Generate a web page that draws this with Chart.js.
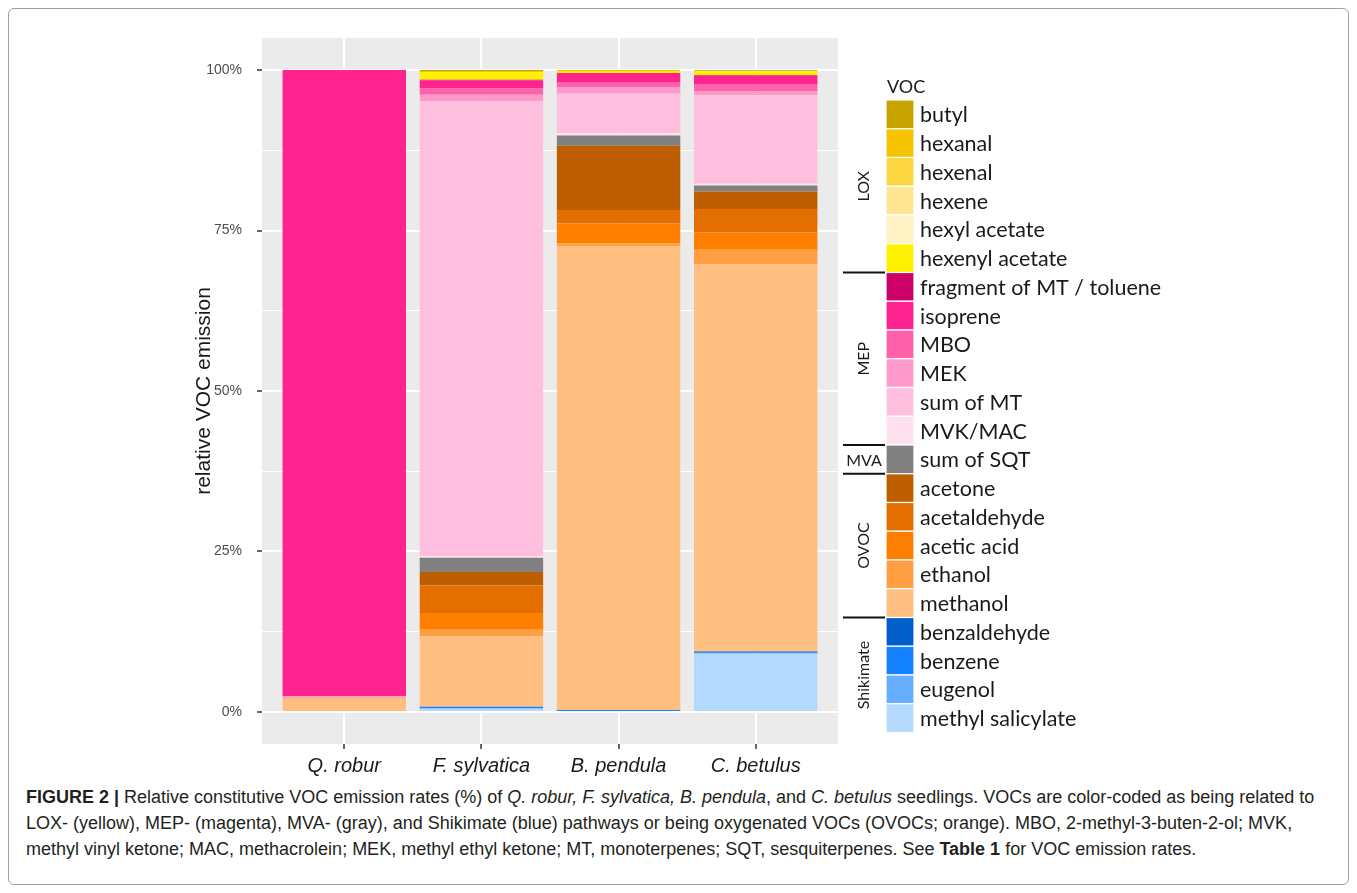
<!DOCTYPE html>
<html>
<head>
<meta charset="utf-8">
<script src="https://cdn.jsdelivr.net/npm/chart.js@4.4.1/dist/chart.umd.min.js"></script>
<style>
  html, body { margin: 0; padding: 0; background: #fff; }
  #frame { position: absolute; left: 8px; top: 8px; width: 1341px; height: 877px;
           border: 1px solid #a0a0a0; border-radius: 6px; box-sizing: border-box; }
  #wrap { position: absolute; left: 0; top: 0; width: 1357px; height: 780px; }
  #caption { position: absolute; left: 26px; top: 784px; width: 1315px;
             font-family: "Liberation Sans", Arial, sans-serif; font-size: 18px;
             line-height: 26px; color: #231f20; white-space: nowrap; }
</style>
</head>
<body>
<div id="frame"></div>
<div id="wrap"><canvas id="c" width="1357" height="780"></canvas></div>
<div id="caption"><b>FIGURE 2 |</b> Relative constitutive VOC emission rates (%) of <i>Q. robur, F. sylvatica, B. pendula</i>, and <i>C. betulus</i> seedlings. VOCs are color-coded as being related to<br>LOX- (yellow), MEP- (magenta), MVA- (gray), and Shikimate (blue) pathways or being oxygenated VOCs (OVOCs; orange). MBO, 2-methyl-3-buten-2-ol; MVK,<br>methyl vinyl ketone; MAC, methacrolein; MEK, methyl ethyl ketone; MT, monoterpenes; SQT, sesquiterpenes. See <b>Table 1</b> for VOC emission rates.</div>
<script>
// Tree species on the x axis
const categories = ['Q. robur', 'F. sylvatica', 'B. pendula', 'C. betulus'];

// VOC compounds, listed top of stack first (legend order)
const vocNames = ['butyl', 'hexanal', 'hexenal', 'hexene', 'hexyl acetate', 'hexenyl acetate',
  'fragment of MT / toluene', 'isoprene', 'MBO', 'MEK', 'sum of MT', 'MVK/MAC',
  'sum of SQT',
  'acetone', 'acetaldehyde', 'acetic acid', 'ethanol', 'methanol',
  'benzaldehyde', 'benzene', 'eugenol', 'methyl salicylate'];

const vocColors = ['#C9A300', '#F5C300', '#FCD541', '#FDE592', '#FEF1C4', '#FFF100',
  '#CC0068', '#FF238F', '#FF62AA', '#FF98CB', '#FFBFDE', '#FFE0EF',
  '#808080',
  '#BD5E00', '#E26F00', '#FF8000', '#FF9F41', '#FFBF80',
  '#005FC9', '#1482FF', '#66AEFF', '#B4D9FF'];

// Pathway groups: [label, first index, last index] into vocNames
const pathwayGroups = [['LOX', 0, 5], ['MEP', 6, 11], ['MVA', 12, 12], ['OVOC', 13, 17], ['Shikimate', 18, 21]];

// Relative emission (%) per species, in vocNames order
const qRobur     = [0, 0, 0, 0, 0, 0,      0, 97.55, 0, 0.25, 0, 0,      0,     0, 0, 0, 0.15, 2.05,      0, 0, 0, 0];
const fSylvatica = [0.15, 0.15, 0, 0, 0, 1.2,  0.1, 1.25, 1.0, 1.05, 70.8, 0.3,  2.2,  2.1, 4.3, 2.5, 1.1, 11.0,  0, 0.2, 0.1, 0.5];
const bPendula   = [0, 0.15, 0, 0, 0, 0.3,  0, 1.4, 0.8, 1.05, 6.1, 0.4,    1.6,  10.0, 2.1, 3.1, 0.5, 72.2,  0, 0.15, 0.15, 0];
const cBetulus   = [0.1, 0.1, 0, 0, 0, 0.55,  0.1, 1.3, 1.2, 0.6, 13.75, 0.3,  0.9,  2.75, 3.65, 2.7, 2.2, 60.4,  0.15, 0.15, 0, 9.1];

const yTickValues = [0, 25, 50, 75, 100];
const yTickLabels = ['0%', '25%', '50%', '75%', '100%'];
const yMinorValues = [12.5, 37.5, 62.5, 87.5];

const speciesValues = [qRobur, fSylvatica, bPendula, cBetulus];

// Stack from the bottom: last compound in the list goes first
const datasets = [];
for (let k = vocNames.length - 1; k >= 0; k--) {
  datasets.push({
    label: vocNames[k],
    data: categories.map((c, i) => ({ x: i, y: speciesValues[i][k] })),
    backgroundColor: vocColors[k],
    borderWidth: 0,
    barPercentage: 0.9,
    categoryPercentage: 1.0
  });
}

const SANS = '"Liberation Sans", Arial, sans-serif';
const LEG = 'Lato, "Open Sans", sans-serif';

const panelBg = {
  id: 'panelBg',
  beforeDraw(chart) {
    const a = chart.chartArea, ctx = chart.ctx;
    ctx.save();
    ctx.fillStyle = '#EBEBEB';
    ctx.fillRect(a.left, a.top, a.right - a.left, a.bottom - a.top);
    ctx.restore();
  }
};

// Legend with pathway brackets on the right-hand side
const vocLegend = {
  id: 'vocLegend',
  afterDraw(chart) {
    const ctx = chart.ctx;
    const boxX = 886, boxW = 28, top0 = 100, pitch = 28.75;
    ctx.save();
    ctx.fillStyle = '#1a1a1a';
    ctx.font = '18px ' + LEG;
    ctx.textAlign = 'left';
    ctx.textBaseline = 'alphabetic';
    ctx.fillText('VOC', 887, 93);

    vocNames.forEach((name, i) => {
      const y = top0 + i * pitch;
      ctx.fillStyle = vocColors[i];
      ctx.fillRect(boxX, y, boxW, pitch);
      ctx.strokeStyle = '#ffffff';
      ctx.lineWidth = 1.2;
      ctx.strokeRect(boxX, y, boxW, pitch);
      ctx.fillStyle = '#1a1a1a';
      ctx.font = '21.5px ' + LEG;
      ctx.textBaseline = 'middle';
      ctx.fillText(name, 920, y + pitch / 2 + 1);
    });

    // group labels and separators
    ctx.strokeStyle = '#111';
    ctx.lineWidth = 2;
    pathwayGroups.forEach(([label, a, b], gi) => {
      const y0 = top0 + a * pitch, y1 = top0 + (b + 1) * pitch;
      const cy = (y0 + y1) / 2;
      ctx.fillStyle = '#1a1a1a';
      ctx.font = '16px ' + LEG;
      if (b === a) {
        ctx.textAlign = 'center';
        ctx.textBaseline = 'middle';
        ctx.fillText(label, 864, cy + 1);
      } else {
        ctx.save();
        ctx.translate(864, cy);
        ctx.rotate(-Math.PI / 2);
        ctx.textAlign = 'center';
        ctx.textBaseline = 'middle';
        ctx.fillText(label, 0, 0);
        ctx.restore();
      }
      if (gi < pathwayGroups.length - 1) {
        ctx.beginPath();
        ctx.moveTo(843, y1);
        ctx.lineTo(885, y1);
        ctx.stroke();
      }
    });
    ctx.restore();
  }
};

new Chart(document.getElementById('c'), {
  type: 'bar',
  data: { datasets },
  options: {
    responsive: false,
    animation: false,
    devicePixelRatio: 1,
    layout: { padding: { left: 190, right: 519, top: 38, bottom: 0 } },
    plugins: { legend: { display: false }, tooltip: { enabled: false } },
    scales: {
      x: {
        type: 'linear',
        stacked: true,
        offset: false,
        min: -0.6,
        max: 3.6,
        afterBuildTicks(scale) { scale.ticks = categories.map((c, i) => ({ value: i })); },
        afterFit(scale) { scale.height = 36; },
        border: { display: false },
        grid: { offset: false, color: '#ffffff', lineWidth: 2, tickColor: '#333333', tickLength: 5, tickWidth: 1.5 },
        ticks: {
          callback: (v) => categories[v],
          color: '#1a1a1a',
          padding: 5,
          maxRotation: 0,
          autoSkip: false,
          font: { family: SANS, size: 20, style: 'italic' }
        }
      },
      y: {
        stacked: true,
        min: -5,
        max: 105,
        afterBuildTicks(scale) {
          scale.ticks = yTickValues.concat(yMinorValues).sort((a, b) => a - b).map(v => ({ value: v }));
        },
        afterFit(scale) { scale.width = 72; },
        border: { display: false },
        grid: {
          color: '#ffffff',
          lineWidth: (c) => (yTickValues.includes(c.tick.value) ? 2 : 1),
          tickColor: (c) => (yTickValues.includes(c.tick.value) ? '#333333' : 'rgba(0,0,0,0)'),
          tickLength: 5,
          tickWidth: 1.5
        },
        ticks: {
          callback: (v) => { const j = yTickValues.indexOf(v); return j >= 0 ? yTickLabels[j] : ''; },
          color: '#4d4d4d',
          padding: 15,
          font: { family: SANS, size: 14 }
        },
        title: {
          display: true,
          text: 'relative VOC emission',
          color: '#1a1a1a',
          padding: { top: 2, bottom: 0 },
          font: { family: SANS, size: 21 }
        }
      }
    }
  },
  plugins: [panelBg, vocLegend]
});
</script>
</body>
</html>
